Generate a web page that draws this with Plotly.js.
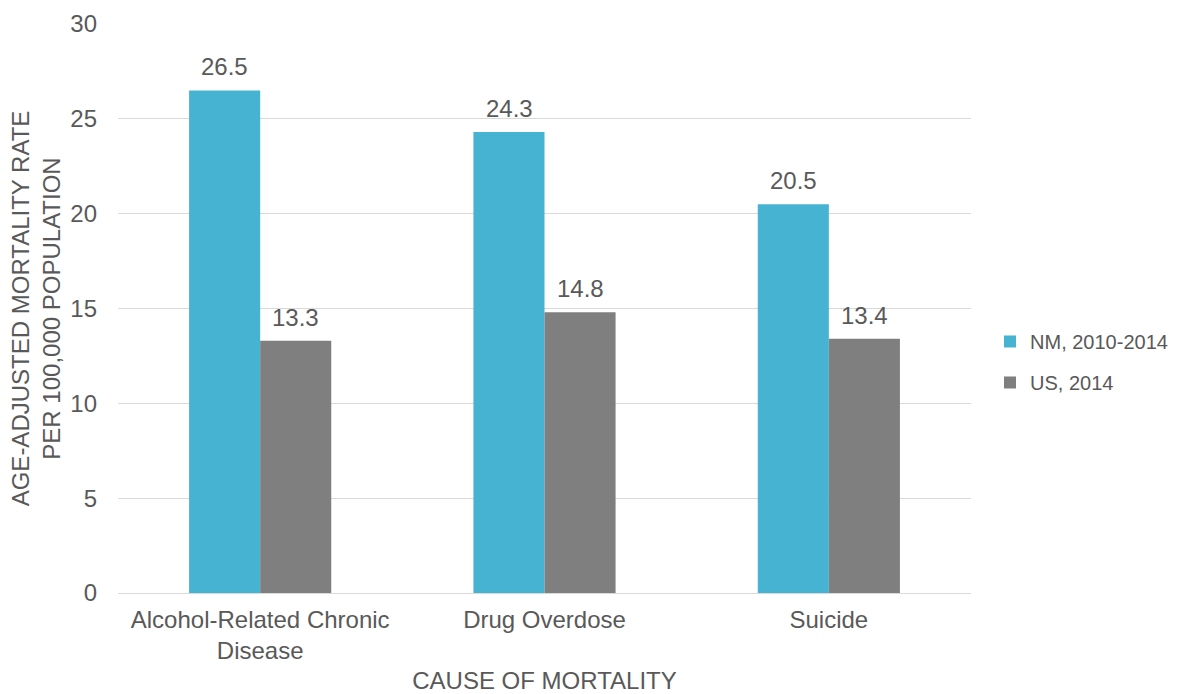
<!DOCTYPE html>
<html>
<head>
<meta charset="utf-8">
<script src="https://cdn.plot.ly/plotly-3.0.1.min.js"></script>
<style>html,body{margin:0;padding:0;background:#fff;}#chart{width:1197px;height:694px;}</style>
</head>
<body>
<div id="chart"></div>
<script>
const categories = ["Alcohol-Related Chronic<br>Disease", "Drug Overdose", "Suicide"];
const seriesNames = ["NM, 2010-2014", "US, 2014"];
const nmValues = [26.5, 24.3, 20.5];
const usValues = [13.3, 14.8, 13.4];
const yTicks = [0, 5, 10, 15, 20, 25, 30];

const colors = ["#47B3D2", "#7F7F7F"];
const font = "Liberation Sans, Arial, sans-serif";
const txt = "#595959";
const fs = 24;

const traces = [
  {type: "bar", name: seriesNames[0], x: categories, y: nmValues, marker: {color: colors[0]}, legendgroup: "a", hoverinfo: "y"},
  {type: "bar", name: seriesNames[1], x: categories, y: usValues, marker: {color: colors[1]}, legendgroup: "b", hoverinfo: "y"}
];

const annotations = [];
[nmValues, usValues].forEach((vals, si) => {
  vals.forEach((v, i) => {
    annotations.push({
      x: categories[i], y: v, xref: "x", yref: "y",
      text: v.toFixed(1), showarrow: false,
      xshift: si === 0 ? -35.5 : 35.5, yshift: 8, yanchor: "bottom",
      font: {family: font, size: fs, color: txt}
    });
  });
});

const layout = {
  width: 1197, height: 694,
  margin: {l: 118, r: 226, t: 24, b: 101},
  paper_bgcolor: "#fff", plot_bgcolor: "#fff",
  font: {family: font, size: fs, color: txt},
  barmode: "group", bargap: 0.5, bargroupgap: 0,
  xaxis: {
    showgrid: false, zeroline: false, showline: true, linecolor: "#D9D9D9", linewidth: 1,
    ticks: "", ticklabelstandoff: 5, tickfont: {family: font, size: fs, color: txt},
    title: {text: "CAUSE OF MORTALITY", font: {family: font, size: fs, color: txt}, standoff: 14}
  },
  yaxis: {
    range: [0, 30], tickvals: yTicks, ticktext: yTicks.map(String),
    showgrid: true, gridcolor: "#D9D9D9", gridwidth: 1, zeroline: false, showline: false,
    ticks: "", ticklabelstandoff: 20, tickfont: {family: font, size: fs, color: txt},
    title: {text: "AGE-ADJUSTED MORTALITY RATE<br>PER 100,000 POPULATION", font: {family: font, size: 24, color: txt}, standoff: 2}
  },
  showlegend: true,
  legend: {
    x: 1.0223, xanchor: "left", y: 0.406, yanchor: "middle",
    font: {family: font, size: 20, color: txt},
    traceorder: "grouped", tracegroupgap: 12, itemwidth: 30
  },
  annotations: annotations
};

Plotly.newPlot("chart", traces, layout, {staticPlot: true});
</script>
</body>
</html>
